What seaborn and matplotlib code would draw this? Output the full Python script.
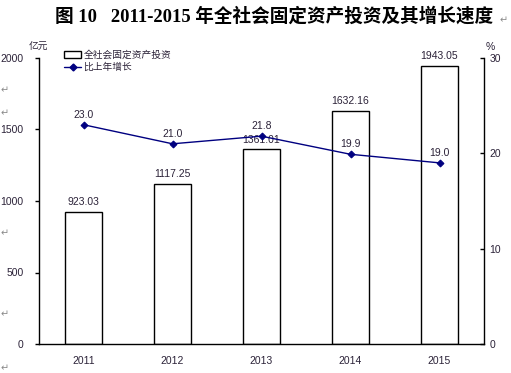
import matplotlib
matplotlib.use("Agg")
import matplotlib.pyplot as plt
import seaborn as sns
import numpy as np
from matplotlib.patches import Patch
from matplotlib.lines import Line2D
from matplotlib.ticker import FixedLocator

years = ["2011", "2012", "2013", "2014", "2015"]
investment = [923.03, 1117.25, 1361.01, 1632.16, 1943.05]
growth = [23.0, 21.0, 21.8, 19.9, 19.0]
left_ticks = [0, 500, 1000, 1500, 2000]
right_ticks = [0, 10, 20, 30]
title = "图 10   2011-2015 年全社会固定资产投资及其增长速度"
bar_name = "全社会固定资产投资"
line_name = "比上年增长"

sns.set_theme(style="white")
plt.rcParams["font.family"] = ["Liberation Sans", "Noto Sans CJK SC", "DejaVu Sans"]

TXT = "#2b2238"
NAVY = "#000080"

fig = plt.figure(figsize=(5.11, 3.73), dpi=100)
ax = fig.add_axes([39/511, 1-344/373, (484-39)/511, (344-58)/373])

sns.barplot(x=years, y=investment, ax=ax, color="white", edgecolor="black",
            linewidth=1.0, width=0.405, saturation=1)
ax.set_xlim(-0.5, 4.5)
ax.set_ylim(0, 2000)
ax.set_yticks(left_ticks)
ax.set_xlabel("")
ax.set_ylabel("")
ax.bar_label(ax.containers[0], labels=[f"{v:.2f}" for v in investment],
             padding=3.5, fontsize=7.5, color=TXT)

ax2 = ax.twinx()
sns.pointplot(x=years, y=growth, ax=ax2, color=NAVY, markers="D",
              markersize=3.5, linewidth=1.0, errorbar=None)
ax2.set_xlim(-0.5, 4.5)
ax2.set_ylim(0, 30)
ax2.set_yticks(right_ticks)
ax2.set_ylabel("")
ax2.set_xlabel("")
for i, v in enumerate(growth):
    ax2.annotate(f"{v:.1f}", (i, v), xytext=(0, 3.5), textcoords="offset points",
                 ha="center", va="bottom", fontsize=7.5, color=TXT)

for a in (ax, ax2):
    a.spines["top"].set_visible(False)
    for s in ("left", "right", "bottom"):
        a.spines[s].set_color("black")
        a.spines[s].set_linewidth(1.0)
    a.grid(False)

ax.spines["right"].set_visible(False)
ax2.spines["left"].set_visible(False)
ax2.spines["bottom"].set_visible(False)

ax.tick_params(axis="y", direction="out", length=3, width=1, color="black",
               labelsize=7.5, labelcolor=TXT, pad=8)
ax2.tick_params(axis="y", direction="in", length=3, width=1, color="black",
                labelsize=7.5, labelcolor=TXT, pad=4)
ax.tick_params(axis="x", which="major", length=0, labelsize=7.5, labelcolor=TXT, pad=9)
ax.xaxis.set_minor_locator(FixedLocator([0.5, 1.5, 2.5, 3.5]))
ax.tick_params(axis="x", which="minor", direction="in", length=3, width=1, color="black")

fig.text(38/511, 1-47/373, "亿元", ha="center", va="center", fontsize=7, color=TXT,
         family=["Noto Sans CJK SC", "DejaVu Sans"])
fig.text(490/511, 1-47/373, "%", ha="center", va="center", fontsize=7.5, color=TXT)

handles = [Patch(facecolor="white", edgecolor="black", linewidth=1.0),
           Line2D([0], [0], color=NAVY, marker="D", markersize=3.5, linewidth=1.0)]
leg = fig.legend(handles, [bar_name, line_name], loc="upper left",
                 bbox_to_anchor=(58/511, 1-44/373), frameon=False,
                 prop={"family": ["Noto Sans CJK SC", "DejaVu Sans"], "size": 7},
                 handlelength=1.8, handleheight=0.8, handletextpad=0.2,
                 labelspacing=0.25, borderpad=0.1)
for t in leg.get_texts():
    t.set_color(TXT)

fig.text(274/511, 1-16/373, title, ha="center", va="center", fontsize=13.4,
         fontweight="bold", color="black",
         family=["Liberation Serif", "Noto Sans CJK SC", "DejaVu Sans"])

mark = dict(fontsize=7, color="#8a8a8a", family=["DejaVu Sans"], ha="center", va="center")
fig.text(504/511, 1-20/373, "↵", **mark)
for yy in (90, 113, 233, 314, 368):
    fig.text(5/511, 1-yy/373, "↵", **mark)

fig.savefig("out.png", dpi=100)
